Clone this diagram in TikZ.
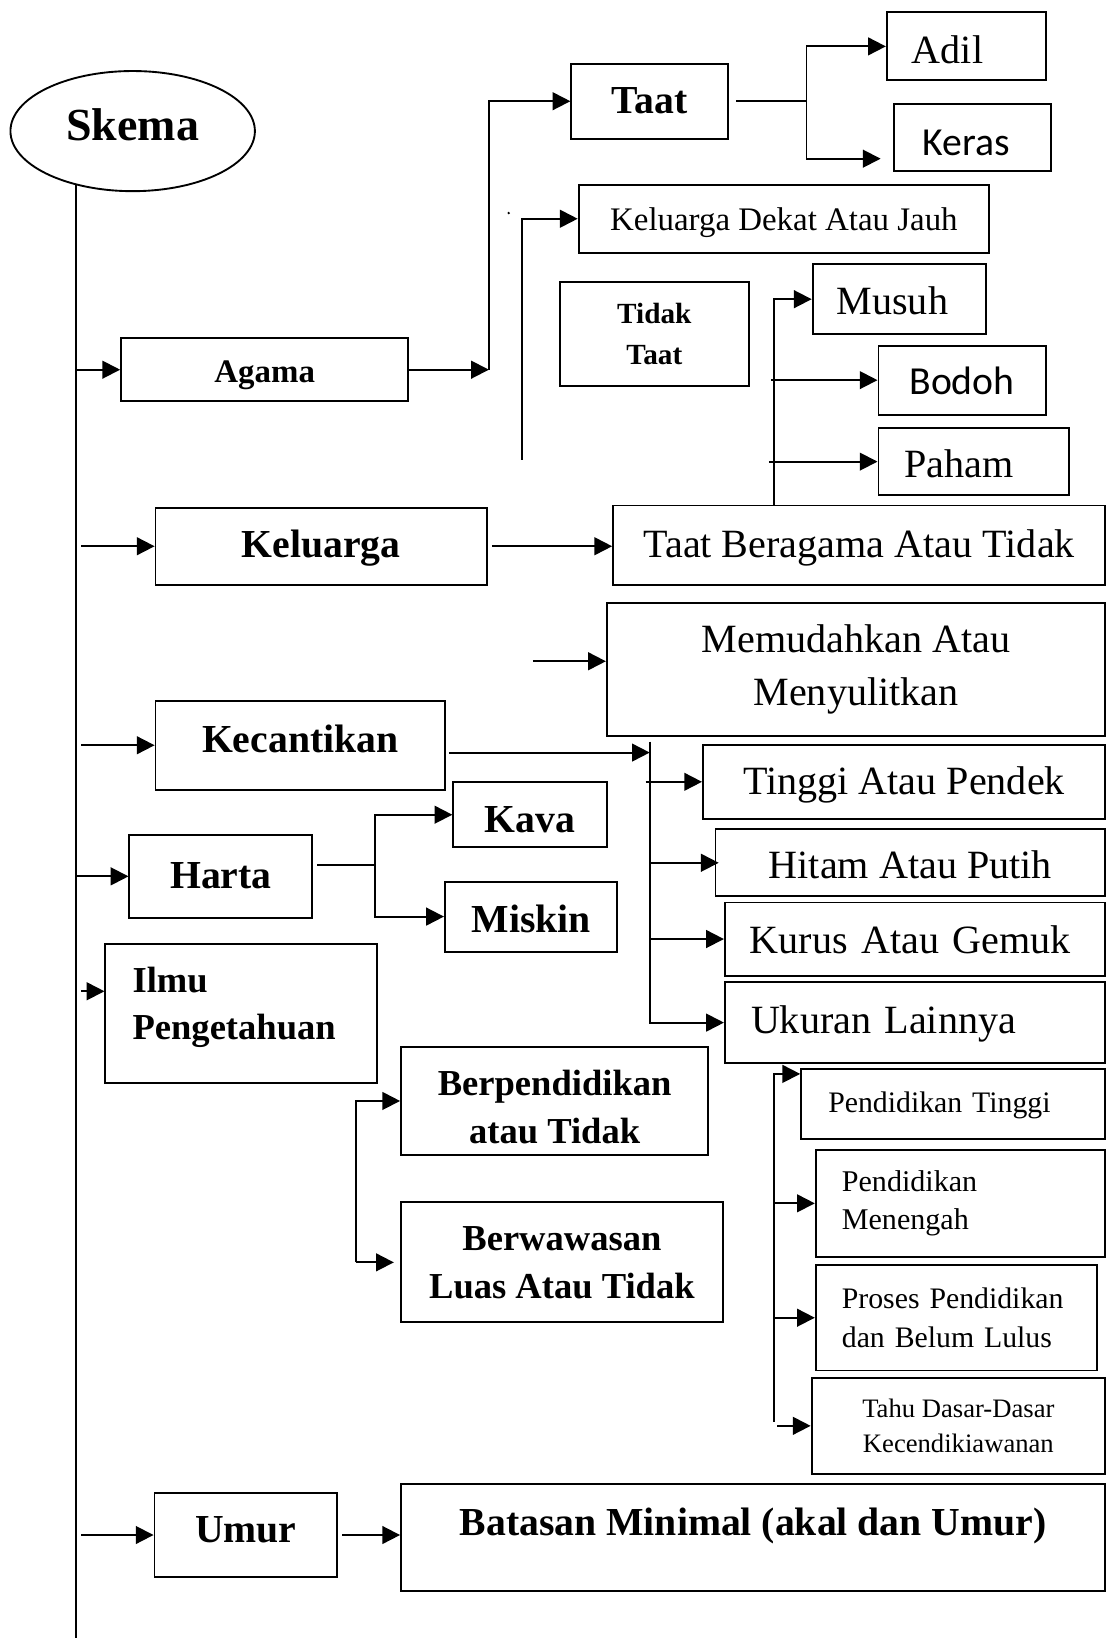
\documentclass[tikz,border=0pt]{standalone}
\usepackage{fontspec}
\setmainfont{Liberation Serif}
\newfontfamily\calib{Carlito}
\usetikzlibrary{arrows.meta,shapes.geometric}
\begin{document}
\begin{tikzpicture}[x=1pt,y=-1pt,
  lw/.style={line width=1.8pt},
  box/.style={draw,line width=1.8pt,inner sep=0pt,anchor=north west,align=center},
  arr/.style={line width=1.8pt,-{Triangle[length=17pt,width=17pt]}},
  rb/.style={font=\fontsize{38.4}{49}\selectfont,text height=35.6pt,text depth=9.2pt},
  bb/.style={font=\fontsize{38}{49}\selectfont\bfseries,text height=27.4pt,text depth=9.1pt},
  cb/.style={font=\fontsize{38}{49}\selectfont\calib,text height=27.4pt,text depth=9.1pt},
]
\useasboundingbox (0,0) rectangle (1059,1568);

% ---------- nodes ----------
\node[draw,ellipse,line width=1.8pt,inner sep=0pt,minimum width=234pt,minimum height=115pt,
      font=\fontsize{44}{50}\selectfont\bfseries,text height=27.7pt,text depth=10.6pt]
      (skema) at (127,125.5) {Skema};

\node[box,minimum width=275pt,minimum height=60pt,font=\fontsize{31.5}{40}\selectfont\bfseries,
      text height=32.7pt,text depth=7.6pt] (agama) at (115,323) {Agama};
\node[box,bb,text height=33.4pt,minimum width=150pt,minimum height=72pt] (taat) at (546,60) {Taat};
\node[box,rb,text height=41.6pt,minimum width=152pt,minimum height=65pt,align=left,inner xsep=24pt,text width=104pt]
      (adil) at (848,11) {Adil};
\node[box,cb,text height=43.4pt,minimum width=150pt,minimum height=64pt,align=left,inner xsep=27pt,text width=96pt]
      (keras) at (855,99) {Keras};
\node[box,minimum width=393pt,minimum height=65pt,font=\fontsize{31.5}{40}\selectfont,
      text height=30.7pt,text depth=7.6pt] (kdj) at (553,176) {Keluarga Dekat Atau Jauh};
\node[box,minimum width=181pt,minimum height=100pt,font=\fontsize{28}{39}\selectfont\bfseries]
      (tidak) at (535,269) {Tidak\\Taat};
\node[box,rb,text height=37.6pt,minimum width=166pt,minimum height=67pt,align=left,inner xsep=23pt,text width=120pt]
      (musuh) at (777,252) {Musuh};
\node[box,cb,text height=37.4pt,minimum width=160pt,minimum height=66pt] (bodoh) at (840,330) {Bodoh};
\node[box,rb,text height=39.6pt,minimum width=182pt,minimum height=64pt,align=left,inner xsep=25pt,text width=132pt]
      (paham) at (840,409) {Paham};

\node[box,bb,text height=31.4pt,minimum width=317pt,minimum height=74pt] (keluarga) at (148,485) {Keluarga};
\node[box,rb,text height=33.6pt,minimum width=471pt,minimum height=76pt] (tbat) at (586,483) {Taat Beragama Atau Tidak};
\node[box,minimum width=477pt,minimum height=128pt,font=\fontsize{38.4}{50}\selectfont]
      (memud) at (580,576) {Memudahkan Atau\\Menyulitkan};

\node[box,bb,text height=23.4pt,minimum width=277pt,minimum height=85pt] (kecantikan) at (148,670) {Kecantikan};
\node[box,rb,text height=33.6pt,minimum width=385pt,minimum height=71pt] (tinggi) at (672,712) {Tinggi Atau Pendek};
\node[box,rb,text height=39.6pt,minimum width=373pt,minimum height=64pt] (hitam) at (684,793) {Hitam Atau Putih};
\node[box,rb,text height=37.6pt,minimum width=364pt,minimum height=70pt,align=left,inner xsep=24pt,text width=316pt]
      (kurus) at (693,863) {Kurus Atau Gemuk};
\node[box,rb,text height=29.6pt,minimum width=364pt,minimum height=78pt,align=left,inner xsep=25pt,text width=314pt]
      (ukuran) at (693,939) {Ukuran Lainnya};

\node[box,bb,text height=31.4pt,minimum width=175pt,minimum height=80pt] (harta) at (123,798) {Harta};
\node[box,bb,text height=43.4pt,minimum width=147pt,minimum height=62pt] (kava) at (433,748) {Kava};
\node[box,bb,text height=39.4pt,minimum width=165pt,minimum height=67pt] (miskin) at (425,843) {Miskin};

\node[box,minimum width=260pt,minimum height=133pt,align=left,inner xsep=26pt,text width=208pt,
      font=\fontsize{35}{45}\selectfont\bfseries] (ilmu) at (100,903)
      {\mbox{Ilmu}\\\mbox{Pengetahuan}\rule[-20pt]{0pt}{1pt}};
\node[box,minimum width=294pt,minimum height=104pt,font=\fontsize{35}{46}\selectfont\bfseries]
      (berpend) at (383,1001) {\rule{0pt}{36pt}Berpendidikan\\atau Tidak};
\node[box,minimum width=308pt,minimum height=115pt,font=\fontsize{35}{46}\selectfont\bfseries]
      (berwaw) at (383,1150) {Berwawasan\\Luas Atau Tidak};

\node[box,minimum width=291pt,minimum height=67pt,align=left,inner xsep=26pt,text width=239pt,
      font=\fontsize{28.5}{36}\selectfont,text height=24.5pt,text depth=6.8pt]
      (pendt) at (766,1022) {\mbox{Pendidikan Tinggi}};
\node[box,minimum width=277pt,minimum height=102pt,align=left,inner xsep=25pt,text width=227pt,
      font=\fontsize{28.8}{37}\selectfont] (pendm) at (780,1100) {\mbox{Pendidikan}\\\mbox{Menengah}};
\node[box,minimum width=269pt,minimum height=101pt,align=left,inner xsep=25pt,text width=219pt,
      font=\fontsize{28.5}{37}\selectfont] (proses) at (780,1210) {\mbox{Proses Pendidikan}\\\mbox{dan Belum Lulus}};
\node[box,minimum width=281pt,minimum height=92pt,font=\fontsize{25.5}{34}\selectfont]
      (tahu) at (776,1318) {Tahu Dasar-Dasar\\Kecendikiawanan};

\node[box,bb,text height=23.4pt,minimum width=175pt,minimum height=81pt] (umur) at (147,1428) {Umur};
\node[box,minimum width=674pt,minimum height=102pt,font=\fontsize{38}{49}\selectfont\bfseries,
      text height=26pt,text depth=30pt] (batasan) at (383,1420) {Batasan Minimal (akal dan Umur)};

% ---------- spine ----------
\coordinate (spinetop) at (73,177);
\coordinate (spinebot) at (73,1568);
\coordinate (sp) at (73,0);
\coordinate (sp2) at (78,0);
\draw[lw] (spinetop) -- (spinebot);
\draw[arr] (sp |- agama.west) -- (agama.west);
\draw[arr] (sp2 |- keluarga.west) -- (keluarga.west);
\draw[arr] (sp2 |- kecantikan.west) -- (kecantikan.west);
\draw[arr] (sp |- harta.west) -- (harta.west);
\coordinate (ilmuin) at ([yshift=21.5pt]ilmu.west);
\draw[arr] (sp2 |- ilmuin) -- (ilmuin);
\draw[arr] (sp2 |- umur.west) -- (umur.west);

% ---------- Agama branch ----------
\coordinate (ja) at (468,0);
\draw[arr] (agama.east) -- (ja |- agama.east);
\draw[arr] (ja |- agama.east) |- (taat.west);
\coordinate (jt) at (772,0);
\draw[lw] ([xshift=7pt]taat.east) -- (jt |- taat.east);
\draw[arr] (jt |- taat.east) |- (adil.west);
\coordinate (kerasin) at ([xshift=-12pt,yshift=-20pt]keras.west);
\draw[arr] (jt |- taat.east) |- (kerasin);
\coordinate (kfoot) at (500,440);
\draw[arr] (kfoot) |- (kdj.west);
\fill (487,204) circle (1.3pt);

% ---------- Keluarga branch ----------
\draw[arr] ([xshift=4pt]keluarga.east) -- (tbat.west |- keluarga.east);
\coordinate (jm) at ([xshift=155pt]tbat.north west);
\draw[arr] (jm) |- (musuh.west);
\coordinate (jb) at (738,0);
\draw[arr] (jb |- bodoh.west) -- (bodoh.west);
\coordinate (jp) at (736,0);
\draw[arr] (jp |- paham.west) -- (paham.west);
\coordinate (mfree) at (510,633);
\draw[arr] (mfree) -- (memud.west |- mfree);

% ---------- Kecantikan branch ----------
\coordinate (kout) at ([xshift=3pt,yshift=-7pt]kecantikan.east);
\coordinate (ktop) at (622,710);
\draw[arr] (kout) -- (ktop |- kout);
\draw[arr] (ktop) |- (ukuran.west);
\coordinate (kt2) at (618,0);
\draw[arr] (kt2 |- tinggi.west) -- (tinggi.west);
\draw[arr] (ktop |- hitam.west) -- ([xshift=4pt]hitam.west);
\draw[arr] (ktop |- kurus.west) -- (kurus.west);

% ---------- Harta branch ----------
\coordinate (hout) at ([xshift=4pt,yshift=11pt]harta.east);
\coordinate (hj) at (359,0);
\draw[lw] (hout) -- (hj |- hout);
\draw[arr] (hj |- hout) |- (kava.west);
\draw[arr] (hj |- hout) |- (miskin.west);

% ---------- Ilmu branch ----------
\coordinate (bj) at (341,0);
\draw[arr] (bj |- berwaw.west) -- (bj |- berpend.west) -- (berpend.west);
\draw[arr] (bj |- berwaw.west) -- ([xshift=-6pt]berwaw.west);

\coordinate (ptop) at ([yshift=-6pt]pendt.north west);
\coordinate (pj) at (741,0);
\coordinate (pbot) at (741,1361);
\draw[arr] (pbot) -- (pj |- ptop) -- (ptop);
\draw[arr] (pj |- pendm.west) -- (pendm.west);
\draw[arr] (pj |- proses.west) -- (proses.west);
\coordinate (pj2) at (744,0);
\draw[arr] (pj2 |- tahu.west) -- (tahu.west);

% ---------- Umur branch ----------
\draw[arr] ([xshift=4pt]umur.east) -- (batasan.west |- umur.east);
\end{tikzpicture}
\end{document}
